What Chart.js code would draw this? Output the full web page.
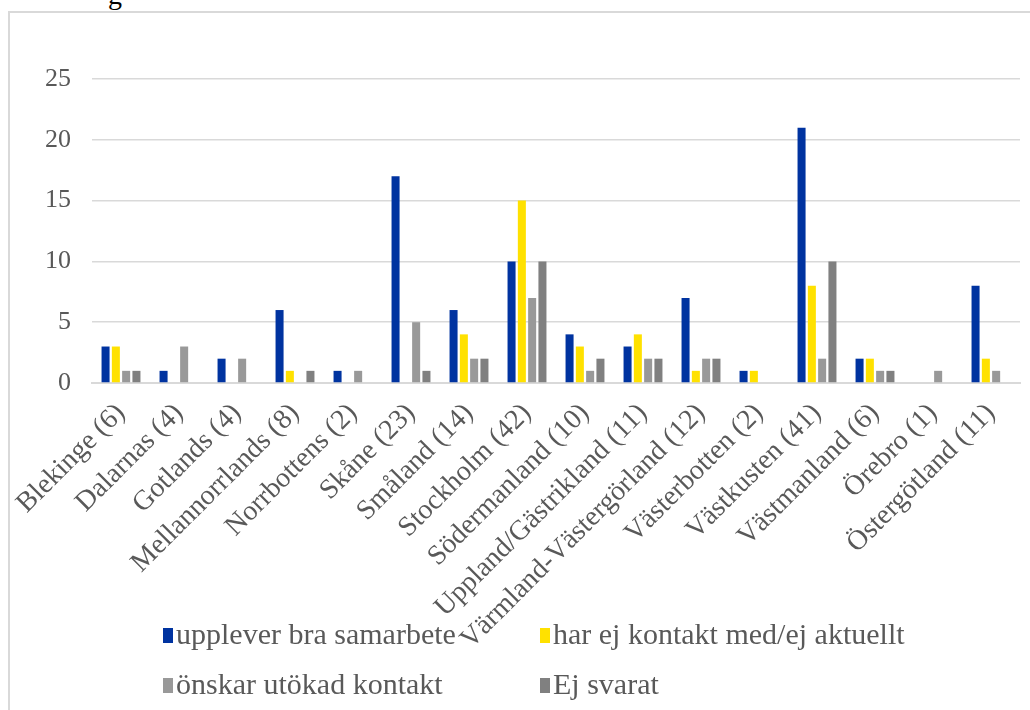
<!DOCTYPE html>
<html>
<head>
<meta charset="utf-8">
<script src="https://cdn.jsdelivr.net/npm/chart.js@4"></script>
<style>
  body { margin: 0; background: #fff; width: 1030px; height: 710px; overflow: hidden; position: relative; }
  #frame { position: absolute; left: 8px; top: 11px; width: 1040px; height: 720px; border: 2px solid #d9d9d9; border-right: none; border-bottom: none; }
  #wrap { position: absolute; left: 0; top: 0; width: 1030px; height: 710px; }
  #cut { position: absolute; left: 108px; top: -21px; font: 28px "Liberation Serif", "Times New Roman", serif; color: #000; }
</style>
</head>
<body>
<div id="cut">g</div>
<div id="frame"></div>
<div id="wrap"><canvas id="chart" width="1030" height="710"></canvas></div>
<script>
const regions = ["Blekinge (6)", "Dalarnas (4)", "Gotlands (4)", "Mellannorrlands (8)", "Norrbottens (2)",
  "Skåne (23)", "Småland (14)", "Stockholm (42)", "Södermanland (10)", "Uppland/Gästrikland (11)",
  "Värmland-Västergörland (12)", "Västerbotten (2)", "Västkusten (41)", "Västmanland (6)", "Örebro (1)", "Östergötland (11)"];

const bra_samarbete = [3, 1, 2, 6, 1, 17, 6, 10, 4, 3, 7, 1, 21, 2, 0, 8];
const ej_kontakt    = [3, 0, 0, 1, 0, 0, 4, 15, 3, 4, 1, 1, 8, 2, 0, 2];
const utokad        = [1, 3, 2, 0, 1, 5, 2, 7, 1, 2, 2, 0, 2, 1, 1, 1];
const ej_svarat     = [1, 0, 0, 1, 0, 1, 2, 10, 2, 2, 2, 0, 10, 1, 0, 0];

const yTicks = [0, 5, 10, 15, 20, 25];

const grey = '#595959';

// legend drawn on the canvas in two columns, Excel style
const gridLegend = {
  id: 'gridLegend',
  afterDraw(chart) {
    const ctx = chart.ctx;
    const cols = [163, 540], rows = [635, 685];
    ctx.save();
    ctx.font = '30px "Liberation Serif"';
    ctx.textBaseline = 'middle';
    chart.data.datasets.forEach(function(d, i) {
      const x = cols[i % 2], y = rows[Math.floor(i / 2)];
      ctx.fillStyle = d.backgroundColor;
      ctx.fillRect(x, y - 7, 10, 15);
      ctx.fillStyle = grey;
      ctx.fillText(d.label, x + 13, y + 1);
    });
    ctx.restore();
  }
};

const chart = new Chart('chart', {
  type: 'bar',
  data: {
    labels: regions,
    datasets: [
      { label: 'upplever bra samarbete', data: bra_samarbete, backgroundColor: '#0033a0' },
      { label: 'har ej kontakt med/ej aktuellt', data: ej_kontakt, backgroundColor: '#ffe100' },
      { label: 'önskar utökad kontakt', data: utokad, backgroundColor: '#999999' },
      { label: 'Ej svarat', data: ej_svarat, backgroundColor: '#808080' }
    ]
  },
  options: {
    responsive: false,
    animation: false,
    categoryPercentage: 0.71,
    barPercentage: 0.78,
    layout: { padding: { left: 0, right: 10, top: 79, bottom: 0 } },
    plugins: { legend: { display: false }, tooltip: { enabled: false } },
    scales: {
      x: {
        afterFit: function(s) { s.height = 327; },
        grid: { display: false },
        border: { color: '#d9d9d9', width: 2 },
        ticks: { color: grey, font: { family: 'Liberation Serif', size: 28 }, minRotation: 45, maxRotation: 45, autoSkip: false, padding: 6 }
      },
      y: {
        min: 0, max: 25,
        afterFit: function(s) { s.width = 92; },
        afterBuildTicks: function(s) { s.ticks = yTicks.map(v => ({ value: v })); },
        grid: { color: '#d9d9d9', lineWidth: 1.5, drawTicks: false },
        border: { display: false },
        ticks: { color: grey, font: { family: 'Liberation Serif', size: 26 }, padding: 21 }
      }
    }
  },
  plugins: [gridLegend]
});
</script>
</body>
</html>
